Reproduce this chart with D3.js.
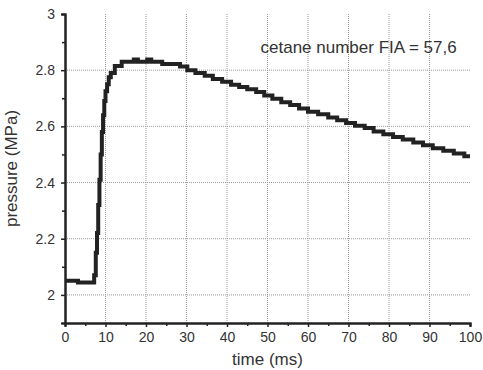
<!DOCTYPE html>
<html>
<head>
<meta charset="utf-8">
<script src="https://cdn.jsdelivr.net/npm/d3@7"></script>
<style>
  body { margin: 0; background: #fff; }
  text { font-family: "Liberation Sans", Arial, sans-serif; fill: #333; }
</style>
</head>
<body>
<div id="chart"></div>
<script>
// step points: time (ms) and pressure (MPa)
const times = [0, 3.2, 7.2, 7.6, 7.9, 8.2, 8.5, 8.8, 9.1, 9.4, 9.7, 10.0, 10.4, 10.8, 11.3, 12.3, 14.0,
  17.0, 18.0, 20.3, 21.3, 24.0, 28.4, 30.2, 32.2, 34.5, 36.5, 38.8, 41.0, 43.0, 45.0, 47.2, 49.2,
  51.2, 53.4, 55.6, 57.8, 60.0, 62.5, 65.0, 67.2, 69.4, 71.6, 74.0, 76.2, 78.6, 81.0, 83.4, 86.0,
  88.4, 90.8, 93.4, 96.0, 98.6, 100];
const pressure = [2.05, 2.044, 2.07, 2.15, 2.22, 2.32, 2.41, 2.50, 2.58, 2.64, 2.69, 2.725, 2.75, 2.775, 2.79, 2.815, 2.83,
  2.838, 2.83, 2.838, 2.83, 2.822, 2.813, 2.800, 2.790, 2.780, 2.769, 2.759, 2.748, 2.740, 2.732, 2.722, 2.710,
  2.698, 2.686, 2.676, 2.664, 2.652, 2.643, 2.632, 2.622, 2.612, 2.602, 2.594, 2.582, 2.572, 2.562, 2.553, 2.543,
  2.533, 2.522, 2.513, 2.503, 2.494, 2.494];
const xTicks = [0, 10, 20, 30, 40, 50, 60, 70, 80, 90, 100];
const yTicks = [2, 2.2, 2.4, 2.6, 2.8, 3];
const xGrid = [10, 20, 30, 40, 50, 60, 70, 80, 90];
const yGrid = [2, 2.2, 2.4, 2.6, 2.8];
const label = 'cetane number FIA = 57,6';

const data = times.map((t, i) => ({t, p: pressure[i]}));

const W = 483, H = 370;
const margin = {top: 14, right: 13, bottom: 47, left: 65};
const width = W - margin.left - margin.right;
const height = H - margin.top - margin.bottom;

const svg = d3.select('#chart').append('svg')
  .attr('width', W).attr('height', H);
const g = svg.append('g').attr('transform', `translate(${margin.left},${margin.top})`);

const x = d3.scaleLinear().domain([0, 100]).range([0, width]);
const y = d3.scaleLinear().domain([1.9, 3]).range([height, 0]);

// dotted grid
g.selectAll('.vgrid').data(xGrid).enter().append('line')
  .attr('x1', d => x(d)).attr('x2', d => x(d))
  .attr('y1', 0).attr('y2', height)
  .attr('stroke', '#999').attr('stroke-dasharray', '1,1');
g.selectAll('.hgrid').data(yGrid).enter().append('line')
  .attr('x1', 0).attr('x2', width)
  .attr('y1', d => y(d)).attr('y2', d => y(d))
  .attr('stroke', '#999').attr('stroke-dasharray', '1,1');

// curve
g.append('path').datum(data)
  .attr('fill', 'none').attr('stroke', '#222').attr('stroke-width', 4)
  .attr('d', d3.line().x(d => x(d.t)).y(d => y(d.p)).curve(d3.curveStepAfter));

// axes
const xAxis = g.append('g').attr('transform', `translate(0,${height})`)
  .call(d3.axisBottom(x).tickValues(xTicks).tickFormat(d3.format('d')).tickSize(4).tickPadding(5));
const xMinor = g.append('g').attr('transform', `translate(0,${height})`)
  .call(d3.axisBottom(x).tickValues(d3.range(5, 100, 10)).tickFormat('').tickSize(3));
const yAxis = g.append('g')
  .call(d3.axisLeft(y).tickValues(yTicks).tickFormat(d => d === 2 || d === 3 ? d : d.toFixed(1)).tickSize(4).tickPadding(6));
const yMinor = g.append('g')
  .call(d3.axisLeft(y).tickValues([2.1, 2.3, 2.5, 2.7, 2.9]).tickFormat('').tickSize(3));

[xAxis, xMinor, yAxis, yMinor].forEach(a => {
  a.select('.domain').attr('stroke', '#222').attr('stroke-width', 2);
  a.selectAll('.tick line').attr('stroke', '#222').attr('stroke-width', 1.5);
  a.selectAll('text').style('font-size', '14px').attr('fill', '#444');
});

// labels
g.append('text')
  .attr('x', width / 2).attr('y', height + 42)
  .attr('text-anchor', 'middle').style('font-size', '17px')
  .text('time (ms)');
g.append('text')
  .attr('transform', 'rotate(-90)')
  .attr('x', -height / 2).attr('y', -48)
  .attr('text-anchor', 'middle').style('font-size', '17px')
  .text('pressure (MPa)');
g.append('text')
  .attr('x', x(96.7)).attr('y', y(2.86))
  .attr('text-anchor', 'end').style('font-size', '17px')
  .text(label);
</script>
</body>
</html>
